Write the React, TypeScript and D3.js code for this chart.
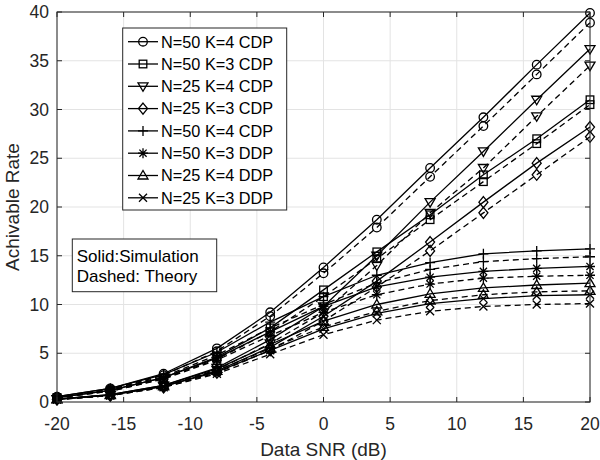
import React from 'react';
import * as d3 from 'd3';

const snr = [-20, -16, -12, -8, -4, 0, 4, 8, 12, 16, 20];
const xTicks = [-20, -15, -10, -5, 0, 5, 10, 15, 20];
const yTicks = [0, 5, 10, 15, 20, 25, 30, 35, 40];

const seriesLabels = [
  'N=50 K=4 CDP',
  'N=50 K=3 CDP',
  'N=25 K=4 CDP',
  'N=25 K=3 CDP',
  'N=50 K=4 CDP',
  'N=50 K=3 DDP',
  'N=25 K=4 DDP',
  'N=25 K=3 DDP',
];
const seriesMarkers = ['circle', 'square', 'triangleDown', 'diamond', 'plus', 'star', 'triangleUp', 'cross'];

// Simulation (solid)
const simA = [0.55, 1.4, 2.9, 5.5, 9.2, 13.8, 18.7, 24.0, 29.2, 34.6, 39.9];
const simB = [0.45, 1.2, 2.5, 4.6, 7.6, 11.5, 15.4, 19.2, 23.3, 27.0, 31.0];
const simC = [0.3, 0.75, 1.7, 3.5, 6.4, 9.8, 15.0, 20.5, 25.7, 31.0, 36.2];
const simD = [0.28, 0.7, 1.6, 3.2, 5.6, 8.8, 12.4, 16.4, 20.5, 24.5, 28.2];
const simE = [0.55, 1.4, 2.8, 5.1, 8.2, 10.8, 13.0, 14.3, 15.2, 15.5, 15.7];
const simF = [0.45, 1.2, 2.5, 4.5, 7.2, 9.8, 11.8, 12.8, 13.4, 13.7, 13.9];
const simG = [0.3, 0.75, 1.7, 3.4, 5.9, 8.3, 10.0, 11.1, 11.7, 12.0, 12.2];
const simH = [0.28, 0.7, 1.6, 3.1, 5.3, 7.5, 9.1, 10.1, 10.6, 10.9, 11.0];

// Theory (dashed)
const thA = [0.5, 1.3, 2.75, 5.2, 8.8, 13.2, 17.9, 23.1, 28.3, 33.6, 38.9];
const thB = [0.42, 1.1, 2.4, 4.4, 7.2, 10.8, 14.7, 18.7, 22.6, 26.5, 30.5];
const thC = [0.28, 0.7, 1.6, 3.3, 6.0, 9.2, 14.0, 19.4, 24.0, 29.3, 34.5];
const thD = [0.26, 0.65, 1.5, 3.0, 5.3, 8.3, 11.8, 15.5, 19.4, 23.3, 27.2];
const thE = [0.5, 1.3, 2.6, 4.8, 7.6, 10.0, 12.2, 13.6, 14.4, 14.7, 14.9];
const thF = [0.42, 1.1, 2.35, 4.3, 6.8, 9.2, 11.0, 12.1, 12.7, 12.9, 13.0];
const thG = [0.28, 0.7, 1.6, 3.2, 5.5, 7.7, 9.3, 10.4, 11.0, 11.3, 11.4];
const thH = [0.26, 0.65, 1.5, 2.9, 4.9, 6.9, 8.4, 9.3, 9.8, 10.0, 10.1];

const simSeries = [simA, simB, simC, simD, simE, simF, simG, simH];
const thSeries = [thA, thB, thC, thD, thE, thF, thG, thH];

const W = 600;
const H = 460;
const left = 57;
const right = 590;
const top = 12;
const bottom = 402;
const FONT = '"Liberation Sans", Arial, Helvetica, sans-serif';
const AX = '#262626';

function Marker({ type, x, y }: { type: string; x: number; y: number }) {
  const s = { fill: 'none', stroke: '#000', strokeWidth: 1.3 } as const;
  switch (type) {
    case 'circle':
      return <circle cx={x} cy={y} r={4.3} {...s} />;
    case 'square':
      return <rect x={x - 3.8} y={y - 3.8} width={7.6} height={7.6} {...s} />;
    case 'triangleDown':
      return <path d={`M${x - 5},${y - 3.5}L${x + 5},${y - 3.5}L${x},${y + 5}Z`} {...s} />;
    case 'triangleUp':
      return <path d={`M${x - 5},${y + 3.5}L${x + 5},${y + 3.5}L${x},${y - 5}Z`} {...s} />;
    case 'diamond':
      return <path d={`M${x},${y - 5.5}L${x + 4.5},${y}L${x},${y + 5.5}L${x - 4.5},${y}Z`} {...s} />;
    case 'plus':
      return <path d={`M${x - 5},${y}L${x + 5},${y}M${x},${y - 5}L${x},${y + 5}`} {...s} />;
    case 'star':
      return (
        <path
          d={`M${x - 5},${y}L${x + 5},${y}M${x},${y - 5}L${x},${y + 5}M${x - 3.6},${y - 3.6}L${x + 3.6},${y + 3.6}M${x - 3.6},${y + 3.6}L${x + 3.6},${y - 3.6}`}
          {...s}
        />
      );
    case 'cross':
      return <path d={`M${x - 4},${y - 4}L${x + 4},${y + 4}M${x - 4},${y + 4}L${x + 4},${y - 4}`} {...s} />;
    default:
      return null;
  }
}

export default function App() {
  const xScale = d3.scaleLinear().domain([-20, 20]).range([left, right]);
  const yScale = d3.scaleLinear().domain([0, 40]).range([bottom, top]);
  const line = d3
    .line<number>()
    .x((_, i) => xScale(snr[i]))
    .y((d) => yScale(d));

  const legX = 122.7;
  const legY = 28;
  const legW = 164;
  const legH = 182;
  const rowY = (i: number) => 41.7 + i * 22.3;

  return (
    <svg
      width={W}
      height={H}
      style={{ position: 'absolute', left: 0, top: 0, background: '#fff' }}
      fontFamily={FONT}
    >
      <rect x={0} y={0} width={W} height={H} fill="#fff" />
      {/* grid */}
      {xTicks.map((t) => (
        <line key={'gx' + t} x1={xScale(t)} x2={xScale(t)} y1={top} y2={bottom} stroke="#e3e3e3" strokeWidth={1} />
      ))}
      {yTicks.map((t) => (
        <line key={'gy' + t} x1={left} x2={right} y1={yScale(t)} y2={yScale(t)} stroke="#e3e3e3" strokeWidth={1} />
      ))}

      {/* curves */}
      {simSeries.map((data, k) => (
        <g key={'s' + k}>
          <path d={line(data) || ''} fill="none" stroke="#000" strokeWidth={1.3} />
          {data.map((v, i) => (
            <Marker key={i} type={seriesMarkers[k]} x={xScale(snr[i])} y={yScale(v)} />
          ))}
        </g>
      ))}
      {thSeries.map((data, k) => (
        <g key={'t' + k}>
          <path d={line(data) || ''} fill="none" stroke="#000" strokeWidth={1.3} strokeDasharray="6,4" />
          {data.map((v, i) => (
            <Marker key={i} type={seriesMarkers[k]} x={xScale(snr[i])} y={yScale(v)} />
          ))}
        </g>
      ))}

      {/* axes box */}
      <rect x={left} y={top} width={right - left} height={bottom - top} fill="none" stroke={AX} strokeWidth={1} />
      {xTicks.map((t) => (
        <g key={'xt' + t}>
          <line x1={xScale(t)} x2={xScale(t)} y1={bottom} y2={bottom - 5} stroke={AX} />
          <line x1={xScale(t)} x2={xScale(t)} y1={top} y2={top + 5} stroke={AX} />
          <text x={xScale(t)} y={429.5} textAnchor="middle" fontSize={17.5} fill={AX}>
            {t}
          </text>
        </g>
      ))}
      {yTicks.map((t) => (
        <g key={'yt' + t}>
          <line x1={left} x2={left + 5} y1={yScale(t)} y2={yScale(t)} stroke={AX} />
          <line x1={right} x2={right - 5} y1={yScale(t)} y2={yScale(t)} stroke={AX} />
          <text x={49} y={yScale(t)} dy="0.35em" textAnchor="end" fontSize={17.5} fill={AX}>
            {t}
          </text>
        </g>
      ))}

      {/* axis labels */}
      <text x={(left + right) / 2} y={456} textAnchor="middle" fontSize={19} fill={AX}>
        Data SNR (dB)
      </text>
      <text
        transform={`translate(19,${(top + bottom) / 2}) rotate(-90)`}
        textAnchor="middle"
        fontSize={19}
        fill={AX}
      >
        Achivable Rate
      </text>

      {/* legend */}
      <rect x={legX} y={legY} width={legW} height={legH} fill="#fff" stroke={AX} strokeWidth={1} />
      {seriesLabels.map((lab, i) => (
        <g key={'lg' + i}>
          <line x1={128} x2={158} y1={rowY(i)} y2={rowY(i)} stroke="#000" strokeWidth={1.3} />
          <Marker type={seriesMarkers[i]} x={143} y={rowY(i)} />
          <text x={161} y={rowY(i)} dy="0.36em" fontSize={16.3} fill="#000">
            {lab}
          </text>
        </g>
      ))}

      {/* annotation */}
      <rect x={72.3} y={239} width={144.4} height={52.7} fill="#fff" stroke={AX} strokeWidth={1} />
      <text x={76.7} y={261.7} fontSize={17} fill="#000">
        Solid:Simulation
      </text>
      <text x={76.7} y={282.3} fontSize={17} fill="#000">
        Dashed: Theory
      </text>
    </svg>
  );
}
